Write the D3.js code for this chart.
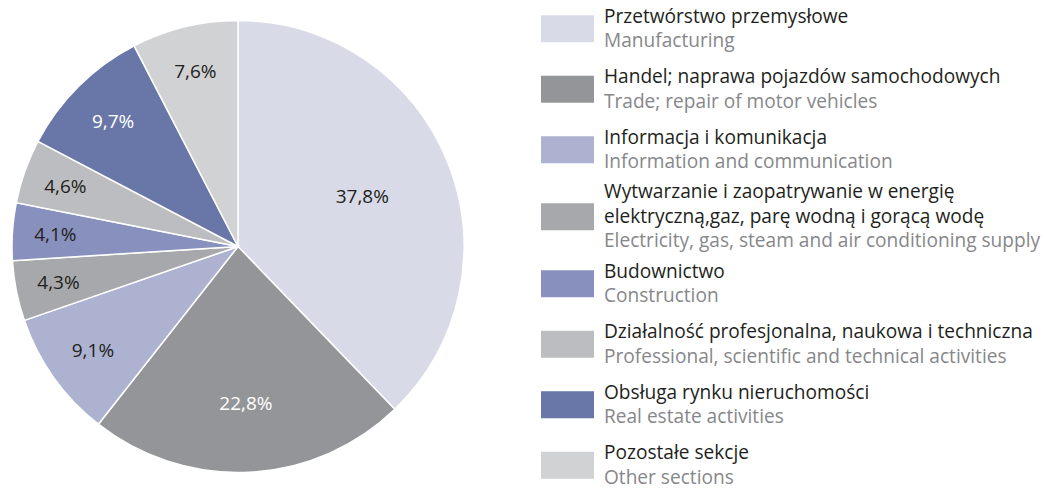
<!DOCTYPE html>
<html>
<head>
<meta charset="utf-8">
<script src="https://cdn.jsdelivr.net/npm/d3@7"></script>
<style>
  body { margin: 0; background: #fff; }
  svg { display: block; font-family: "Open Sans", sans-serif; }
  .slice { stroke: #fff; stroke-width: 1.5; }
  .pct { font-size: 19px; text-anchor: middle; dominant-baseline: central; }
  .pl { font-size: 19.1px; fill: #231f20; }
  .en { font-size: 19.1px; fill: #86878a; }
</style>
</head>
<body>
<div id="chart"></div>
<script>
// sections, clockwise from 12 o'clock
var labelsPl = [
  ['Przetwórstwo przemysłowe'],
  ['Handel; naprawa pojazdów samochodowych'],
  ['Informacja i komunikacja'],
  ['Wytwarzanie i zaopatrywanie w energię', 'elektryczną,gaz, parę wodną i gorącą wodę'],
  ['Budownictwo'],
  ['Działalność profesjonalna, naukowa i techniczna'],
  ['Obsługa rynku nieruchomości'],
  ['Pozostałe sekcje']
];
var labelsEn = [
  'Manufacturing',
  'Trade; repair of motor vehicles',
  'Information and communication',
  'Electricity, gas, steam and air conditioning supply',
  'Construction',
  'Professional, scientific and technical activities',
  'Real estate activities',
  'Other sections'
];
var shares = [37.8, 22.8, 9.1, 4.3, 4.1, 4.6, 9.7, 7.6];
var colors = ['#d8dae8', '#949598', '#adb2d0', '#a7a8ab', '#8891bd', '#bcbdc0', '#6977a8', '#d1d2d4'];
var darkSlices = [1, 6]; // labels drawn in white

var width = 1044, height = 491;
var cx = 238, cy = 246.5, radius = 226;

var svg = d3.select('#chart').append('svg')
  .attr('width', width)
  .attr('height', height);

var items = shares.map(function (v, i) {
  return {value: v, i: i};
});

var pie = d3.pie()
  .sort(null)
  .value(function (d) { return d.value; });

var arc = d3.arc()
  .innerRadius(0)
  .outerRadius(radius);

var pieG = svg.append('g')
  .attr('transform', 'translate(' + cx + ',' + cy + ')');

var arcs = pie(items);

pieG.selectAll('path.slice')
  .data(arcs)
  .enter().append('path')
    .attr('class', 'slice')
    .attr('fill', function (d) { return colors[d.data.i]; })
    .attr('d', arc);

// small slices get their label further out
function labelRadius(v) {
  return radius * Math.min(0.81, 0.85 - 0.0068 * v);
}

pieG.selectAll('text.pct')
  .data(arcs)
  .enter().append('text')
    .attr('class', 'pct')
    .attr('transform', function (d) {
      var r = labelRadius(d.data.value);
      var a = (d.startAngle + d.endAngle) / 2;
      return 'translate(' + (r * Math.sin(a)) + ',' + (-r * Math.cos(a)) + ')';
    })
    .attr('fill', function (d) {
      return darkSlices.indexOf(d.data.i) >= 0 ? '#fff' : '#231f20';
    })
    .text(function (d) { return d.data.value.toFixed(1).replace('.', ',') + '%'; });

// legend
var legX = 541, swW = 53, swH = 27, textX = 604, lineH = 24.5;
var legG = svg.append('g').attr('class', 'legend');
var y = -1.5;
labelsPl.forEach(function (pl, i) {
  var lines = pl.length + 1;
  var block = 60.5 + (lines - 2) * 13;
  var c = y + block / 2;
  y += block;
  var g = legG.append('g');
  g.append('rect')
    .attr('x', legX)
    .attr('y', c - swH / 2)
    .attr('width', swW)
    .attr('height', swH)
    .attr('fill', colors[i]);
  var all = pl.concat([labelsEn[i]]);
  all.forEach(function (t, k) {
    g.append('text')
      .attr('class', k < pl.length ? 'pl' : 'en')
      .attr('x', textX)
      .attr('y', c + (k - (lines - 1) / 2) * lineH - 1)
      .attr('dominant-baseline', 'central')
      .text(t);
  });
});
</script>
</body>
</html>
